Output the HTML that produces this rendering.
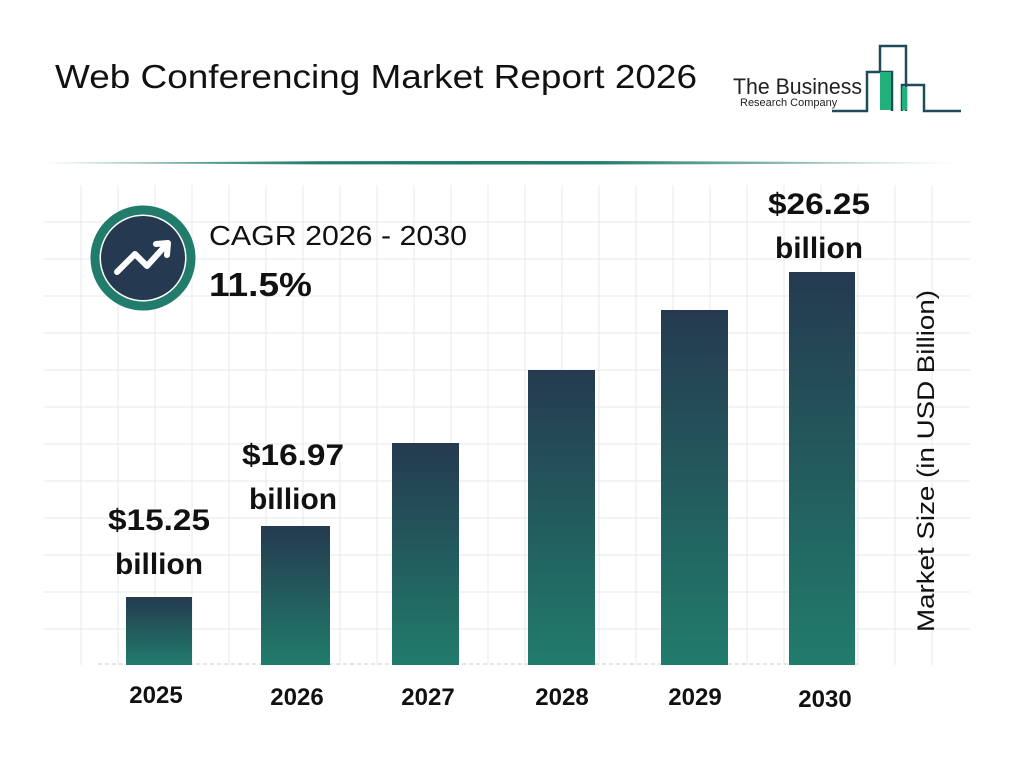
<!DOCTYPE html>
<html><head><meta charset="utf-8"><style>
html,body{margin:0;padding:0;background:#fff;}
svg{display:block;font-family:"Liberation Sans",Arial,sans-serif;}
</style></head><body>
<svg width="1024" height="768" viewBox="0 0 1024 768" xmlns="http://www.w3.org/2000/svg">
<defs>
<linearGradient id="bg" x1="0" y1="0" x2="0" y2="1">
<stop offset="0" stop-color="#253a50"/><stop offset="1" stop-color="#217c6b"/>
</linearGradient>
<linearGradient id="hl" x1="0" y1="0" x2="1" y2="0">
<stop offset="0" stop-color="#217c6b" stop-opacity="0.3"/><stop offset="0.3" stop-color="#217c6b"/><stop offset="0.6" stop-color="#217c6b"/><stop offset="1" stop-color="#217c6b" stop-opacity="0.05"/>
</linearGradient>
</defs>
<rect width="1024" height="768" fill="#fff"/>
<text x="55" y="88" font-size="33" fill="#111" textLength="642" lengthAdjust="spacingAndGlyphs">Web Conferencing Market Report 2026</text>
<!-- logo -->
<text x="733" y="94" font-size="22" fill="#222" textLength="129" lengthAdjust="spacingAndGlyphs">The Business</text>
<text x="740" y="106" font-size="11" fill="#222">Research Company</text>
<g fill="none" stroke="#1f4a5a" stroke-width="2.5">
<polyline points="832,111 867,111 867,72 892,72 892,111"/>
<polyline points="880,72 880,46 906,46 906,111"/>
<polyline points="902,111 902,85 924,85 924,111 961,111"/>
</g>
<rect x="880" y="72" width="11" height="38" fill="#22b07d"/>
<rect x="902" y="87" width="5" height="23" fill="#22b07d"/>
<path d="M40 163 Q500 159 970 163 Q500 166 40 163Z" fill="url(#hl)"/>
<!-- grid -->
<g stroke="#e6e8eb" stroke-width="1">
<path d="M81 185V665M118 185V665M155 185V665M192 185V665M229 185V665M266 185V665M303 185V665M340 185V665M377 185V665M414 185V665M451 185V665M488 185V665M525 185V665M562 185V665M599 185V665M636 185V665M673 185V665M710 185V665M747 185V665M784 185V665M821 185V665M858 185V665M895 185V665M932 185V665"/>
<path d="M44 222H970M44 259H970M44 296H970M44 333H970M44 370H970M44 407H970M44 444H970M44 481H970M44 518H970M44 555H970M44 592H970M44 629H970"/>
</g>
<line x1="98" y1="664" x2="860" y2="664" stroke="#ccc" stroke-dasharray="4,3"/>
<!-- bars -->
<rect x="126" y="597" width="66" height="68" fill="url(#bg)"/>
<rect x="261" y="526" width="69" height="139" fill="url(#bg)"/>
<rect x="392" y="443" width="67" height="222" fill="url(#bg)"/>
<rect x="528" y="370" width="67" height="295" fill="url(#bg)"/>
<rect x="661" y="310" width="67" height="355" fill="url(#bg)"/>
<rect x="789" y="272" width="66" height="393" fill="url(#bg)"/>
<g font-weight="bold" font-size="30" fill="#111">
<text x="108" y="530" textLength="102" lengthAdjust="spacingAndGlyphs">$15.25</text><text x="115" y="574" textLength="88" lengthAdjust="spacingAndGlyphs">billion</text>
<text x="242" y="465" textLength="102" lengthAdjust="spacingAndGlyphs">$16.97</text><text x="249" y="509" textLength="88" lengthAdjust="spacingAndGlyphs">billion</text>
<text x="768" y="214" textLength="102" lengthAdjust="spacingAndGlyphs">$26.25</text><text x="775" y="258" textLength="88" lengthAdjust="spacingAndGlyphs">billion</text>
</g>
<g font-weight="bold" font-size="24" fill="#111" text-anchor="middle">
<text x="156" y="703">2025</text><text x="297" y="705">2026</text><text x="428" y="705">2027</text>
<text x="562" y="705">2028</text><text x="695" y="705">2029</text><text x="825" y="707">2030</text>
</g>
<text transform="translate(934,461) rotate(-90)" font-size="24" fill="#111" text-anchor="middle" textLength="342" lengthAdjust="spacingAndGlyphs">Market Size (in USD Billion)</text>
<!-- CAGR -->
<circle cx="143" cy="258" r="48" fill="#fff" stroke="#217c6b" stroke-width="9"/>
<circle cx="143" cy="258" r="42" fill="#253a50"/>
<polyline points="117,272 135,254 147,266 166,245" fill="none" stroke="#fff" stroke-width="6" stroke-linecap="round" stroke-linejoin="round"/>
<polyline points="156,244 168,243 167,255" fill="none" stroke="#fff" stroke-width="6" stroke-linecap="round" stroke-linejoin="round"/>
<text x="209" y="245" font-size="28" fill="#111" textLength="258" lengthAdjust="spacingAndGlyphs">CAGR 2026 - 2030</text>
<text x="209" y="296" font-size="33" font-weight="bold" fill="#111" textLength="103" lengthAdjust="spacingAndGlyphs">11.5%</text>
</svg>
</body></html>
